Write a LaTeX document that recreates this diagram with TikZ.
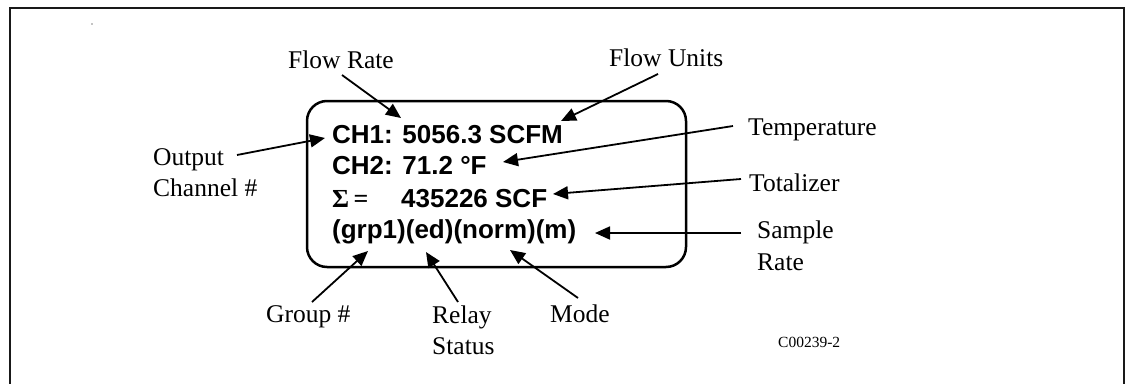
\documentclass[tikz,border=0pt]{standalone}
\usepackage{fontspec}
\setmainfont{Liberation Serif}
\newfontfamily\dispfont{Liberation Sans}
\usetikzlibrary{arrows.meta}
\tikzset{
  lbl/.style={inner sep=0pt, anchor=base west, font=\fontsize{25.5}{31.5}\selectfont},
  disp/.style={inner sep=0pt, anchor=base west, font=\dispfont\bfseries\fontsize{26}{31}\selectfont},
  arr/.style={line width=1.8pt, -{Triangle[length=15pt,width=13pt]}},
  frame/.style={line width=2.5pt, draw=black!90},
  screen/.style={line width=2.5pt, rounded corners=20pt}
}
\begin{document}
\begin{tikzpicture}[x=1pt,y=-1pt]
\useasboundingbox (0,0) rectangle (1126,383);
\draw[frame] (10,384) -- (10,8) -- (1124,8) -- (1124,384);
\fill (92,24) circle (0.6);
\draw[screen] (307,101) rectangle (686,267);
% display text
\node[disp] (l1) at (332,143) {CH1: 5056.3 SCFM};
\node[disp] (l2) at (332,174) {CH2: 71.2 °F};
\node[disp] (l3a) at (332,207) {\fontspec{Liberation Serif}\bfseries Σ\,=};
\node[disp] (l3b) at (401,207) {435226 SCF};
\node[disp] (l4) at (332,238) {(grp1)(ed)(norm)(m)};
% labels
\node[lbl] (flowrate) at (288,68) {Flow Rate};
\node[lbl] (flowunits) at (609,66) {Flow Units};
\node[lbl] (temp) at (748,135) {Temperature};
\node[lbl] (total) at (749,191) {Totalizer};
\node[lbl] (sample1) at (757,238) {Sample};
\node[lbl] (sample2) at (757,270) {Rate};
\node[lbl] (output1) at (153,165) {Output};
\node[lbl] (output2) at (153,196) {Channel \#};
\node[lbl] (group) at (266,322) {Group \#};
\node[lbl] (relay1) at (432,323) {Relay};
\node[lbl] (relay2) at (432,354) {Status};
\node[lbl] (mode) at (550,322) {Mode};
\node[inner sep=0pt, anchor=base west, font=\fontsize{15.5}{18}\selectfont] (code) at (778,347) {C00239-2};
% connector ends
\coordinate (frS) at (342,75);   \coordinate (frT) at (401,118);
\coordinate (fuS) at (658,74);   \coordinate (fuT) at (561,121);
\coordinate (tpS) at (733,126);  \coordinate (tpT) at (503,162);
\coordinate (ttS) at (741,179);  \coordinate (ttT) at (553,194);
\coordinate (smS) at (741,233);  \coordinate (smT) at (595,233);
\coordinate (ocS) at (237,155);  \coordinate (ocT) at (325,138);
\coordinate (gpS) at (312,302);  \coordinate (gpT) at (368,251);
\coordinate (rsS) at (458,302);  \coordinate (rsT) at (426,252);
\coordinate (mdS) at (578,298);  \coordinate (mdT) at (510,250);
\draw[arr] (frS) -- (frT);
\draw[arr] (fuS) -- (fuT);
\draw[arr] (tpS) -- (tpT);
\draw[arr] (ttS) -- (ttT);
\draw[arr] (smS) -- (smT);
\draw[arr] (ocS) -- (ocT);
\draw[arr] (gpS) -- (gpT);
\draw[arr] (rsS) -- (rsT);
\draw[arr] (mdS) -- (mdT);
\end{tikzpicture}
\end{document}
